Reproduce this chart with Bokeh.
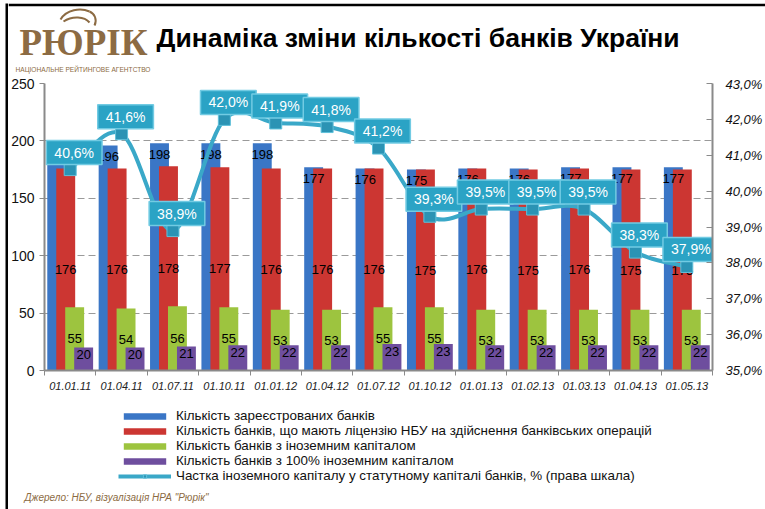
import numpy as np
from bokeh.plotting import figure
from bokeh.layouts import row, column
from bokeh.models import (Range1d, LinearAxis, FixedTicker, CustomJSTickFormatter,
                          ColumnDataSource, Legend, LegendItem, Label, Spacer)
from bokeh.transform import dodge
from bokeh.core.properties import value
from bokeh.embed import file_html
from bokeh.resources import INLINE

# ---------------- data ----------------
dates = ["01.01.11", "01.04.11", "01.07.11", "01.10.11", "01.01.12", "01.04.12", "01.07.12",
         "01.10.12", "01.01.13", "01.02.13", "01.03.13", "01.04.13", "01.05.13"]
registered = [194, 196, 198, 198, 198, 177, 176, 175, 176, 176, 177, 177, 177]
licensed = [176, 176, 178, 177, 176, 176, 176, 175, 176, 175, 176, 175, 175]
foreign = [55, 54, 56, 55, 53, 53, 55, 55, 53, 53, 53, 53, 53]
foreign100 = [20, 20, 21, 22, 22, 22, 23, 23, 22, 22, 22, 22, 22]
foreign_share = [40.6, 41.6, 38.9, 42.0, 41.9, 41.8, 41.2, 39.3, 39.5, 39.5, 39.5, 38.3, 37.9]

left_ticks = [0, 50, 100, 150, 200, 250]
right_ticks = [35, 36, 37, 38, 39, 40, 41, 42, 43]

title_text = "Динаміка зміни кількості банків України"
logo_text = "РЮРІК"
logo_sub = "НАЦІОНАЛЬНЕ РЕЙТИНГОВЕ АГЕНТСТВО"
source_text = "Джерело: НБУ, візуалізація НРА \"Рюрік\""
legend_labels = [
    "Кількість зареєстрованих банків",
    "Кількість банків, що мають ліцензію НБУ на здійснення банківських операцій",
    "Кількість банків з іноземним капіталом",
    "Кількість банків з 100% іноземним капіталом",
    "Частка іноземного капіталу у статутному капіталі банків, % (права шкала)",
]

BLUE = "#3a76c6"
RED = "#cc3632"
GREEN = "#9dc43f"
PURPLE = "#6e4e9e"
TEAL = "#3aa8c8"
BOX = "#2ba3c5"
MARK = "#2b93b4"
BROWN = "#8c6b43"
GRAY = "#8a8a8a"


def blank(width, height, x0, x1, y0, y1, bg="white", border="white", top_border=0):
    f = figure(width=width, height=height, x_range=Range1d(x0, x1), y_range=Range1d(y1, y0),
               x_axis_type=None, y_axis_type=None, output_backend="svg", toolbar_location=None,
               min_border=0, min_border_left=0, min_border_right=0, min_border_top=top_border,
               min_border_bottom=0, frame_align=False)
    f.outline_line_color = None
    f.background_fill_color = bg
    f.border_fill_color = border
    f.grid.visible = False
    if f.title is not None:
        f.title.visible = False
    return f


# ---------------- left black frame line ----------------
left_line = blank(3, 506, 0, 1, 0, 1, bg="black", border="black")

# ---------------- header (its 3px top border is the black frame line) ----------------
top = blank(757, 73, 8, 765, 6, 76, border="black", top_border=3)
top.add_layout(Label(x=156, y=37.5, text=title_text, text_font="Liberation Sans",
                     text_font_style="bold", text_font_size="26.5px", text_baseline="middle",
                     text_align="left", text_color="black"))
top.add_layout(Label(x=19, y=42, text=logo_text, text_font="Liberation Serif",
                     text_font_style="bold", text_font_size="37px", text_baseline="middle",
                     text_color=BROWN))
top.add_layout(Label(x=15, y=68.5, text=logo_sub, text_font="Liberation Sans", text_font_size="6.6px",
                     text_baseline="middle", text_color=BROWN))
top.bezier(x0=[60, 89, 63], y0=[19, 11, 21], x1=[89, 94, 89], y1=[11, 25, 22],
           cx0=[66, 94, 72], cy0=[9, 13, 15], cx1=[80, 97, 84], cy1=[7, 19, 16],
           line_color=BROWN, line_width=2)

# ---------------- chart ----------------
xs = list(range(len(dates)))
src = ColumnDataSource(dict(
    x=xs,
    reg=registered, lic=licensed, fgn=foreign, f100=foreign100, share=foreign_share,
    lic_mid=[v / 2 for v in licensed], fgn_mid=[v / 2 for v in foreign],
    reg_t=[str(v) for v in registered], lic_t=[str(v) for v in licensed],
    fgn_t=[str(v) for v in foreign], f100_t=[str(v) for v in foreign100],
    share_t=[("%.1f" % v).replace(".", ",") + "%" for v in foreign_share],
))

p = figure(width=757, height=319, x_range=Range1d(-0.5, len(dates) - 0.5),
           y_range=Range1d(0, 250), output_backend="svg", toolbar_location=None,
           min_border_left=35, min_border_right=51, min_border_top=7, min_border_bottom=25,
           frame_align=False)
p.extra_y_ranges = {"pct": Range1d(35, 43)}
p.outline_line_color = None
if p.title is not None:
    p.title.visible = False

xa = p.xaxis[0]
xa.ticker = FixedTicker(ticks=xs, minor_ticks=[i - 0.5 for i in range(len(dates) + 1)])
xa.major_label_overrides = {i: d for i, d in enumerate(dates)}
xa.major_tick_line_color = None
xa.major_tick_out = 0
xa.major_tick_in = 0
xa.minor_tick_out = 5
xa.minor_tick_in = 0
xa.minor_tick_line_color = GRAY
xa.axis_line_color = GRAY
xa.axis_line_width = 2
xa.major_label_text_font = "Liberation Sans"
xa.major_label_text_font_style = "italic"
xa.major_label_text_font_size = "11px"
xa.major_label_text_color = "#222222"
xa.major_label_standoff = 6

ya = p.yaxis[0]
ya.ticker = FixedTicker(ticks=left_ticks)
ya.major_tick_out = 5
ya.major_tick_in = 0
ya.minor_tick_line_color = None
ya.major_tick_line_color = GRAY
ya.axis_line_color = GRAY
ya.axis_line_width = 2
ya.major_label_text_font = "Liberation Sans"
ya.major_label_text_font_size = "14px"
ya.major_label_text_color = "#111111"
ya.major_label_standoff = 5

ra = LinearAxis(y_range_name="pct", ticker=FixedTicker(ticks=right_ticks),
                formatter=CustomJSTickFormatter(code="return tick.toFixed(1).replace('.', ',') + '%';"))
ra.major_tick_out = 0
ra.major_tick_in = 6
ra.minor_tick_line_color = None
ra.major_tick_line_color = GRAY
ra.axis_line_color = GRAY
ra.axis_line_width = 2
ra.major_label_text_font = "Liberation Sans"
ra.major_label_text_font_style = "italic"
ra.major_label_text_font_size = "13px"
ra.major_label_text_color = "#111111"
ra.major_label_standoff = 13
p.add_layout(ra, "right")

p.xgrid.visible = False
p.ygrid.ticker = FixedTicker(ticks=left_ticks)
p.ygrid.grid_line_color = "#9a9a9a"
p.ygrid.grid_line_dash = "7 4"
p.ygrid.grid_line_width = 1

W = 0.368
offs = [-0.262, -0.087, 0.087, 0.262]
p.vbar(x=dodge("x", offs[0]), top="reg", bottom=0, width=W, fill_color=BLUE, line_color=None, source=src)
p.vbar(x=dodge("x", offs[1]), top="lic", bottom=0, width=W, fill_color=RED, line_color=None, source=src)
p.vbar(x=dodge("x", offs[2]), top="fgn", bottom=0, width=W, fill_color=GREEN, line_color=None, source=src)
p.vbar(x=dodge("x", offs[3]), top="f100", bottom=0, width=W, fill_color=PURPLE, line_color=None, source=src)

lab_font = value("Liberation Sans")
p.text(x=dodge("x", offs[0]), y="reg", text="reg_t", text_align="center", text_baseline="middle",
       y_offset=11, text_font=lab_font, text_font_size="13px", text_color="black", source=src)
p.text(x=dodge("x", offs[1]), y="lic_mid", text="lic_t", text_align="center", text_baseline="middle",
       text_font=lab_font, text_font_size="13px", text_color="black", source=src)
p.text(x=dodge("x", offs[2]), y="fgn_mid", text="fgn_t", text_align="center", text_baseline="middle",
       text_font=lab_font, text_font_size="13px", text_color="black", source=src)
p.text(x=dodge("x", offs[3]), y="f100", text="f100_t", text_align="center", text_baseline="middle",
       y_offset=7, text_font=lab_font, text_font_size="13px", text_color="black", source=src)

n = len(xs)
seg = dict(x0=[], y0=[], x1=[], y1=[], cx0=[], cy0=[], cx1=[], cy1=[])
for i in range(n - 1):
    a, d = max(i - 1, 0), min(i + 2, n - 1)
    seg["x0"].append(xs[i]); seg["y0"].append(foreign_share[i])
    seg["x1"].append(xs[i + 1]); seg["y1"].append(foreign_share[i + 1])
    seg["cx0"].append(xs[i] + (xs[i + 1] - xs[a]) / 6)
    seg["cy0"].append(foreign_share[i] + (foreign_share[i + 1] - foreign_share[a]) / 6)
    seg["cx1"].append(xs[i + 1] - (xs[d] - xs[i]) / 6)
    seg["cy1"].append(foreign_share[i + 1] - (foreign_share[d] - foreign_share[i]) / 6)
p.bezier(x0="x0", y0="y0", x1="x1", y1="y1", cx0="cx0", cy0="cy0", cx1="cx1", cy1="cy1",
         line_color=TEAL, line_width=4, y_range_name="pct", source=ColumnDataSource(seg))
p.scatter(x="x", y="share", marker="square", size=12, fill_color=MARK,
          line_color="#5fc0da", line_width=1, y_range_name="pct", source=src)
p.text(x="x", y="share", text="share_t", x_offset=4, y_offset=-17, text_align="center",
       text_baseline="middle", text_color="white", text_font=lab_font, text_font_size="14px",
       background_fill_color=BOX, border_line_color="#72cbe3", border_line_width=1.5,
       padding=dict(x=8, y=4), y_range_name="pct", source=src)

# ---------------- legend + source ----------------
bot = blank(757, 114, 8, 765, 395, 509)
lg_b = bot.vbar(x="x", top="reg", width=0.5, fill_color=BLUE, line_color=None, source=src, visible=False)
lg_r = bot.vbar(x="x", top="lic", width=0.5, fill_color=RED, line_color=None, source=src, visible=False)
lg_g = bot.vbar(x="x", top="fgn", width=0.5, fill_color=GREEN, line_color=None, source=src, visible=False)
lg_p = bot.vbar(x="x", top="f100", width=0.5, fill_color=PURPLE, line_color=None, source=src, visible=False)
lg_l = bot.line(x="x", y="share", line_color=TEAL, line_width=4, source=src, visible=False)
lg_m = bot.scatter(x="x", y="share", marker="square", size=10, fill_color=MARK,
                   line_color="#5fc0da", source=src, visible=False)
legend = Legend(items=[
    LegendItem(label=legend_labels[0], renderers=[lg_b]),
    LegendItem(label=legend_labels[1], renderers=[lg_r]),
    LegendItem(label=legend_labels[2], renderers=[lg_g]),
    LegendItem(label=legend_labels[3], renderers=[lg_p]),
    LegendItem(label=legend_labels[4], renderers=[lg_l, lg_m]),
], location=(110, 26), orientation="vertical", glyph_width=53, glyph_height=8, label_height=14,
    spacing=0, padding=0, margin=0, label_standoff=5, label_text_font="Liberation Sans",
    label_text_font_size="13.4px", label_text_color="#111111",
    background_fill_alpha=0, border_line_color=None, inactive_fill_alpha=0)
bot.add_layout(legend)
bot.add_layout(Label(x=24, y=496.5, text=source_text, text_font="Liberation Sans",
                     text_font_style="italic", text_font_size="10px", text_baseline="middle",
                     text_color=BROWN))

layout = column(
    Spacer(width=765, height=3),
    row(Spacer(width=5, height=506), left_line, column(top, p, bot)),
)
open("out.html", "w").write(file_html(layout, INLINE))
